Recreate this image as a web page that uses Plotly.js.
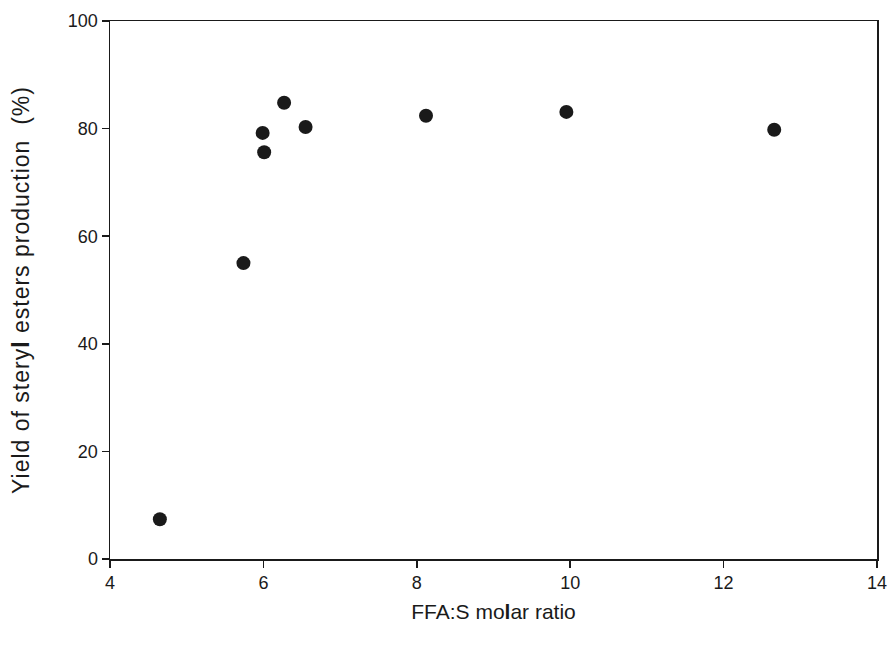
<!DOCTYPE html>
<html>
<head>
<meta charset="utf-8">
<script src="https://cdn.plot.ly/plotly-3.0.1.min.js"></script>
<style>
html,body{margin:0;padding:0;background:#fff;}
.ytitle{letter-spacing:1px;}
</style>
</head>
<body>
<div id="chart" style="width:889px;height:646px;"></div>
<script>
const ratio = [4.65, 5.74, 5.99, 6.01, 6.27, 6.55, 8.12, 9.95, 12.66];
const yieldPct = [7.4, 55.0, 79.2, 75.6, 84.8, 80.3, 82.4, 83.1, 79.8];
const xTicks = [4, 6, 8, 10, 12, 14];
const yTicks = [0, 20, 40, 60, 80, 100];

const fam = 'Liberation Sans, Arial, sans-serif';
const ink = '#1a1a1a';

Plotly.newPlot('chart', [{
  x: ratio, y: yieldPct, type: 'scatter', mode: 'markers',
  marker: {size: 14, color: ink}
}], {
  width: 889, height: 646,
  margin: {l: 110, r: 12, t: 21, b: 87},
  paper_bgcolor: '#fff', plot_bgcolor: '#fff',
  showlegend: false,
  font: {family: fam, color: ink},
  xaxis: {
    range: [4, 14], tickvals: xTicks, ticktext: xTicks.map(String),
    showgrid: false, zeroline: false, showline: true, mirror: true,
    linecolor: ink, linewidth: 1.5,
    ticks: 'outside', ticklen: 7, tickwidth: 1.5, tickcolor: ink,
    ticklabeloverflow: 'allow',
    tickfont: {size: 18, family: fam, color: ink},
    title: {text: 'FFA:S mo<b>l</b>ar ratio', font: {size: 21, family: fam, color: ink}, standoff: 12}
  },
  yaxis: {
    range: [0, 100], tickvals: yTicks, ticktext: yTicks.map(String),
    showgrid: false, zeroline: false, showline: true, mirror: true,
    linecolor: ink, linewidth: 1.5,
    ticks: 'outside', ticklen: 7, tickwidth: 1.5, tickcolor: ink,
    ticklabeloverflow: 'allow',
    tickfont: {size: 18, family: fam, color: ink},
    title: {text: 'Yield of stery<b>l</b> esters production \u00a0(%)', font: {size: 23, family: fam, color: ink}, standoff: 32}
  }
}, {staticPlot: true});
</script>
</body>
</html>
